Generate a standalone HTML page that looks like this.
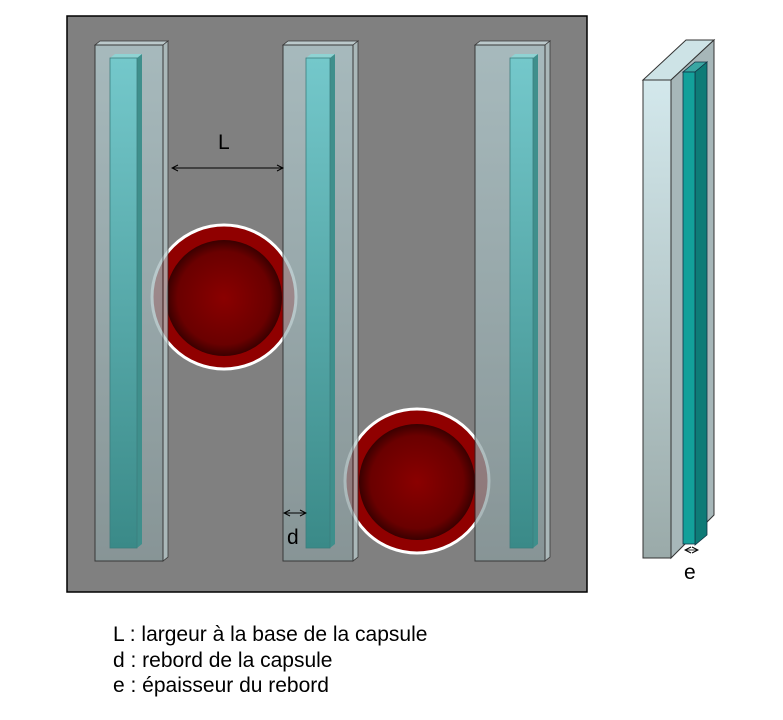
<!DOCTYPE html>
<html><head><meta charset="utf-8"><style>
html,body{margin:0;padding:0;background:#fff;width:783px;height:720px;overflow:hidden}
text{font-family:"Liberation Sans",sans-serif}
</style></head><body>
<svg width="783" height="720" viewBox="0 0 783 720" xmlns="http://www.w3.org/2000/svg">
<defs>
<linearGradient id="bar" x1="0" y1="0" x2="0" y2="1">
<stop offset="0" stop-color="#b4cdd1"/><stop offset="1" stop-color="#8a9c9e"/></linearGradient>
<linearGradient id="teal" x1="0" y1="0" x2="0" y2="1">
<stop offset="0" stop-color="#74c8cb"/><stop offset="1" stop-color="#3a8a88"/></linearGradient>
<radialGradient id="red" cx="0.5" cy="0.5" r="0.5">
<stop offset="0" stop-color="#8a0000"/><stop offset="0.8" stop-color="#6a0000"/><stop offset="1" stop-color="#3a0000"/></radialGradient>
<linearGradient id="rbar" x1="0" y1="0" x2="0" y2="1">
<stop offset="0" stop-color="#d3e8ec"/><stop offset="1" stop-color="#9aaaa9"/></linearGradient>
<marker id="ah" markerWidth="8" markerHeight="8" refX="7" refY="4" orient="auto-start-reverse" markerUnits="userSpaceOnUse">
<path d="M1,1 L7,4 L1,7" fill="none" stroke="#000" stroke-width="1"/></marker>
</defs>
<rect x="67" y="16" width="520" height="576" fill="#808080" stroke="#000" stroke-width="1.5"/>
<g>
<circle cx="224" cy="297" r="72" fill="#900000"/>
<circle cx="224" cy="298" r="58" fill="url(#red)"/>
<circle cx="224" cy="297" r="72" fill="none" stroke="#fff" stroke-width="3"/>
<circle cx="417" cy="481" r="72" fill="#900000"/>
<circle cx="417" cy="482" r="58" fill="url(#red)"/>
<circle cx="417" cy="481" r="72" fill="none" stroke="#fff" stroke-width="3"/>
</g>
<g opacity="0.75">
<polygon points="95,45 163,45 168,41 100,41" fill="#cfe2e4" stroke="#222" stroke-width="0.8"/>
<polygon points="163,45 168,41 168,557 163,561" fill="#b9cbcc" stroke="#222" stroke-width="0.8"/>
<rect x="95" y="45" width="68" height="516" fill="url(#bar)" stroke="#222" stroke-width="1"/>
</g>
<polygon points="110,58 137,58 142,54 115,54" fill="#8fd3d3"/>
<polygon points="137,58 142,54 142,544 137,548" fill="#3f8f8c"/>
<rect x="110" y="58" width="27" height="490" fill="url(#teal)" stroke="#3b7d7d" stroke-width="0.8"/>
<g opacity="0.75">
<polygon points="283,45 353,45 358,41 288,41" fill="#cfe2e4" stroke="#222" stroke-width="0.8"/>
<polygon points="353,45 358,41 358,557 353,561" fill="#b9cbcc" stroke="#222" stroke-width="0.8"/>
<rect x="283" y="45" width="70" height="516" fill="url(#bar)" stroke="#222" stroke-width="1"/>
</g>
<polygon points="306,58 330,58 335,54 311,54" fill="#8fd3d3"/>
<polygon points="330,58 335,54 335,544 330,548" fill="#3f8f8c"/>
<rect x="306" y="58" width="24" height="490" fill="url(#teal)" stroke="#3b7d7d" stroke-width="0.8"/>
<g opacity="0.75">
<polygon points="475,45 545,45 550,41 480,41" fill="#cfe2e4" stroke="#222" stroke-width="0.8"/>
<polygon points="545,45 550,41 550,557 545,561" fill="#b9cbcc" stroke="#222" stroke-width="0.8"/>
<rect x="475" y="45" width="70" height="516" fill="url(#bar)" stroke="#222" stroke-width="1"/>
</g>
<polygon points="510,58 533,58 538,54 515,54" fill="#8fd3d3"/>
<polygon points="533,58 538,54 538,544 533,548" fill="#3f8f8c"/>
<rect x="510" y="58" width="23" height="490" fill="url(#teal)" stroke="#3b7d7d" stroke-width="0.8"/>
<line x1="172" y1="168" x2="283" y2="168" stroke="#000" stroke-width="1" marker-start="url(#ah)" marker-end="url(#ah)"/>
<text x="218" y="149" font-size="21">L</text>
<line x1="284" y1="513" x2="306" y2="513" stroke="#000" stroke-width="1" marker-start="url(#ah)" marker-end="url(#ah)"/>
<text x="287" y="544" font-size="21">d</text>
<polygon points="643,80 671,80 714,40 686,40" fill="#cde3e6" stroke="#333" stroke-width="1"/>
<polygon points="671,80 714,40 714,515 671,558" fill="#a7b7b9" stroke="#333" stroke-width="1"/>
<polygon points="683,72 695,72 707,62 695,62" fill="#3aa6a2" stroke="#134" stroke-width="0.8"/>
<polygon points="695,72 707,62 707,535 695,545" fill="#0e7b77" stroke="#134" stroke-width="0.8"/>
<rect x="683" y="72" width="12" height="472" fill="#13a09a" stroke="#134" stroke-width="0.8"/>
<rect x="643" y="80" width="28" height="478" fill="url(#rbar)" stroke="#333" stroke-width="1"/>
<line x1="685" y1="550" x2="698" y2="550" stroke="#000" stroke-width="0.8" marker-start="url(#ah)" marker-end="url(#ah)"/>
<text x="684" y="579" font-size="21">e</text>
<text x="113" y="641" font-size="21">L : largeur à la base de la capsule</text>
<text x="113" y="667" font-size="21">d : rebord de la capsule</text>
<text x="113" y="692" font-size="21">e : épaisseur du rebord</text>
</svg>
</body></html>
